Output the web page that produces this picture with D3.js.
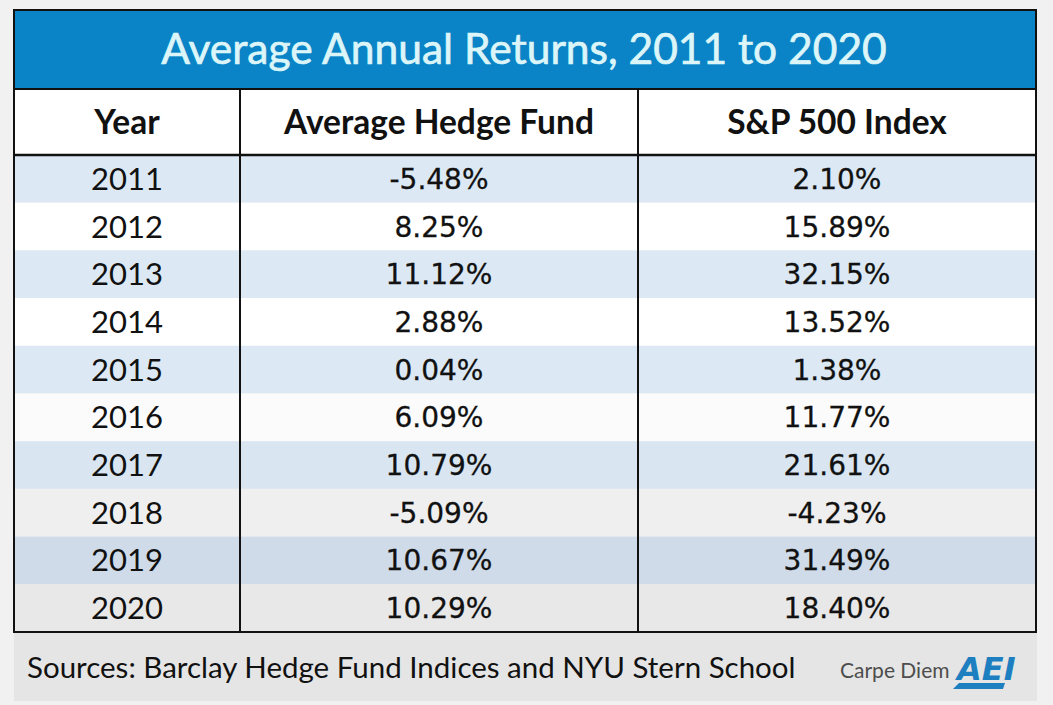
<!DOCTYPE html>
<html>
<head>
<meta charset="utf-8">
<script src="https://cdn.jsdelivr.net/npm/d3@7"></script>
<style>
  body { margin: 0; background: #f1f1f1; }
  svg { display: block; }
</style>
</head>
<body>
<svg width="1053" height="705"></svg>
<script>
// table data
const title = "Average Annual Returns, 2011 to 2020";
const columns = ["Year", "Average Hedge Fund", "S&P 500 Index"];
const years = ["2011", "2012", "2013", "2014", "2015", "2016", "2017", "2018", "2019", "2020"];
const hedgeFund = ["-5.48%", "8.25%", "11.12%", "2.88%", "0.04%", "6.09%", "10.79%", "-5.09%", "10.67%", "10.29%"];
const sp500 = ["2.10%", "15.89%", "32.15%", "13.52%", "1.38%", "11.77%", "21.61%", "-4.23%", "31.49%", "18.40%"];
const source = "Sources: Barclay Hedge Fund Indices and NYU Stern School";

// row shading (video vignette makes the bottom rows greyer)
const rowShade = ["#dce9f5", "#ffffff", "#dce9f5", "#ffffff", "#dce9f5", "#fbfbfb",
                  "#d9e6f2", "#efefef", "#cfdbe8", "#e8e8e8"];

var svg = d3.select("svg");

var tLeft = 14, tRight = 1036, tTop = 10;
var titleBottom = 89, headBottom = 155, tableBottom = 632;

// column edges: narrow year column, two equal value columns
var colX = d3.scaleOrdinal()
    .domain(columns)
    .range([[tLeft, 240], [240, 638], [638, tRight]]);
var colMid = c => (colX(c)[0] + colX(c)[1]) / 2;

var y = d3.scaleBand()
    .domain(years)
    .range([headBottom, tableBottom]);

var rows = years.map((yr, i) => ({ year: yr, hedge: hedgeFund[i], sp: sp500[i], i: i }));

// footer
svg.append("rect")
    .attr("x", tLeft).attr("y", tableBottom)
    .attr("width", tRight - tLeft + 1).attr("height", 705 - tableBottom - 4)
    .attr("fill", "#e5e5e5");

// title band
svg.append("rect")
    .attr("x", tLeft).attr("y", tTop)
    .attr("width", tRight - tLeft).attr("height", titleBottom - tTop)
    .attr("fill", "#0a84c6");

svg.append("text")
    .attr("x", (tLeft + tRight) / 2 - 1).attr("y", 64)
    .attr("text-anchor", "middle")
    .style("font-family", "Lato")
    .style("font-size", "42.5px")
    .attr("fill", "#dcf5f9")
    .attr("stroke", "#dcf5f9")
    .attr("stroke-width", 0.7)
    .text(title);

// header row
svg.append("rect")
    .attr("x", tLeft).attr("y", titleBottom)
    .attr("width", tRight - tLeft).attr("height", headBottom - titleBottom)
    .attr("fill", "#ffffff");

svg.append("g")
    .selectAll("text")
    .data(columns)
    .enter()
    .append("text")
    .attr("x", d => colMid(d))
    .attr("y", 134)
    .attr("text-anchor", "middle")
    .style("font-family", "Lato")
    .style("font-size", "33.5px")
    .style("font-weight", "bold")
    .attr("fill", "#111")
    .text(d => d);

// body rows
svg.append("g")
    .selectAll("rect")
    .data(rows)
    .enter()
    .append("rect")
    .attr("x", tLeft)
    .attr("y", d => y(d.year))
    .attr("width", tRight - tLeft)
    .attr("height", y.bandwidth())
    .attr("fill", d => rowShade[d.i]);

var cells = svg.append("g");

cells.selectAll("text.year")
    .data(rows)
    .enter()
    .append("text")
    .attr("class", "year")
    .attr("x", colMid(columns[0]))
    .attr("y", d => y(d.year) + y.bandwidth() / 2 + 11)
    .attr("text-anchor", "middle")
    .style("font-family", "Lato")
    .style("font-size", "31px")
    .attr("fill", "#111")
    .text(d => d.year);

cells.selectAll("text.hedge")
    .data(rows)
    .enter()
    .append("text")
    .attr("class", "hedge")
    .attr("x", colMid(columns[1]))
    .attr("y", d => y(d.year) + y.bandwidth() / 2 + 10)
    .attr("text-anchor", "middle")
    .style("font-family", "DejaVu Sans")
    .style("font-size", "28px")
    .attr("fill", "#111")
    .attr("stroke", "#111")
    .attr("stroke-width", 0.3)
    .text(d => d.hedge);

cells.selectAll("text.sp")
    .data(rows)
    .enter()
    .append("text")
    .attr("class", "sp")
    .attr("x", colMid(columns[2]))
    .attr("y", d => y(d.year) + y.bandwidth() / 2 + 10)
    .attr("text-anchor", "middle")
    .style("font-family", "DejaVu Sans")
    .style("font-size", "28px")
    .attr("fill", "#111")
    .attr("stroke", "#111")
    .attr("stroke-width", 0.3)
    .text(d => d.sp);

// grid lines
var lines = svg.append("g").attr("stroke", "#111").attr("fill", "none");

lines.append("rect")
    .attr("x", tLeft).attr("y", tTop)
    .attr("width", tRight - tLeft).attr("height", tableBottom - tTop)
    .attr("stroke-width", 2);

lines.append("line")
    .attr("x1", tLeft).attr("x2", tRight)
    .attr("y1", titleBottom).attr("y2", titleBottom)
    .attr("stroke-width", 2);

lines.append("line")
    .attr("x1", tLeft).attr("x2", tRight)
    .attr("y1", headBottom).attr("y2", headBottom)
    .attr("stroke-width", 2.5);

lines.selectAll("line.col")
    .data(columns.slice(1))
    .enter()
    .append("line")
    .attr("class", "col")
    .attr("x1", d => colX(d)[0]).attr("x2", d => colX(d)[0])
    .attr("y1", titleBottom).attr("y2", tableBottom)
    .attr("stroke-width", 2);

// footer text
svg.append("text")
    .attr("x", 27).attr("y", 678)
    .style("font-family", "Lato")
    .style("font-size", "29.5px")
    .attr("fill", "#111")
    .text(source);

svg.append("text")
    .attr("x", 840).attr("y", 678)
    .style("font-family", "Lato")
    .style("font-size", "21px")
    .attr("fill", "#4d4d4d")
    .text("Carpe Diem");

// AEI logo
var logo = svg.append("g").attr("transform", "translate(953,680)");
logo.append("text")
    .attr("x", 4).attr("y", 0)
    .style("font-family", "DejaVu Sans")
    .style("font-size", "32px")
    .style("font-weight", "bold")
    .style("font-style", "italic")
    .attr("fill", "#1e7fc0")
    .text("AEI");
logo.append("path")
    .attr("d", "M0,9 L6,3 L52,3 L50,9 Z")
    .attr("fill", "#1e7fc0");
</script>
</body>
</html>
